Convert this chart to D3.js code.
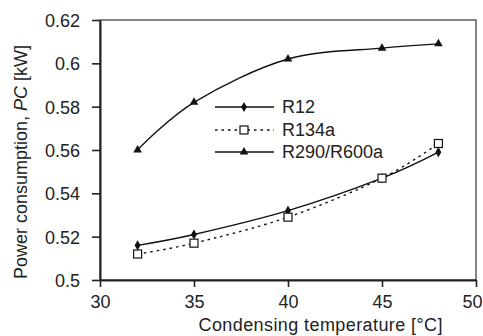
<!DOCTYPE html>
<html><head><meta charset="utf-8">
<script src="https://cdn.jsdelivr.net/npm/d3@7"></script>
<style>body{margin:0;background:#fff}svg{display:block}text{font-family:"Liberation Sans",Arial,sans-serif}</style>
</head><body><svg id="c" width="483" height="336"></svg>
<script>
const temps = [32, 35, 40, 45, 48];
const r12 = [0.516, 0.521, 0.532, 0.547, 0.559];
const r134a = [0.512, 0.517, 0.529, 0.547, 0.563];
const r290 = [0.560, 0.582, 0.602, 0.607, 0.609];
const seriesNames = ["R12", "R134a", "R290/R600a"];
const xTicks = [30, 35, 40, 45, 50];
const yTicks = [0.5, 0.52, 0.54, 0.56, 0.58, 0.6, 0.62];

const FS = 18;
const svg = d3.select("#c");
const L = 100, R = 476, T = 20, B = 280;
const x = d3.scaleLinear().domain([30, 50]).range([L, R]);
const y = d3.scaleLinear().domain([0.5, 0.62]).range([B, T]);

// frame
svg.append("rect").attr("x", L).attr("y", T).attr("width", R - L).attr("height", B - T)
  .attr("fill", "none").attr("stroke", "#444").attr("stroke-width", 1.3);

const fmtY = d => String(+d.toFixed(2));
const ax = svg.append("g").attr("transform", `translate(0,${B})`)
  .call(d3.axisBottom(x).tickValues(xTicks).tickSize(7).tickSizeOuter(0));
const ay = svg.append("g").attr("transform", `translate(${L},0)`)
  .call(d3.axisLeft(y).tickValues(yTicks).tickSize(8).tickSizeOuter(0).tickFormat(fmtY));
[ax, ay].forEach(g => {
  g.select(".domain").attr("stroke", "#222").attr("stroke-width", 2);
  g.selectAll(".tick line").attr("stroke", "#222").attr("stroke-width", 1.6);
  g.selectAll("text").attr("font-size", FS).attr("fill", "#222")
   .attr("font-family", "Liberation Sans, Arial, sans-serif");
});
ax.selectAll("text").attr("y", 28).attr("dy", 0)
  .attr("x", d => d === 50 ? -4 : 0);
ay.selectAll("text").attr("x", -20).attr("dy", "0.36em");

// titles
svg.append("text").attr("x", 320.5).attr("y", 331).attr("text-anchor", "middle")
  .attr("font-size", FS).attr("fill", "#222")
  .attr("textLength", 244).attr("lengthAdjust", "spacing")
  .text("Condensing temperature [°C]");
const yt = svg.append("text").attr("transform", `translate(27,162) rotate(-90)`)
  .attr("text-anchor", "middle").attr("font-size", FS).attr("fill", "#222");
yt.append("tspan").text("Power consumption, ");
yt.append("tspan").attr("font-style", "italic").text("PC");
yt.append("tspan").text(" [kW]");

const series = [
  {name: seriesNames[0], vals: r12, dash: null, marker: "diamond"},
  {name: seriesNames[1], vals: r134a, dash: "2.5,4", marker: "square"},
  {name: seriesNames[2], vals: r290, dash: null, marker: "triangle"}
];
const line = d3.line().x(d => x(d[0])).y(d => y(d[1])).curve(d3.curveCardinal.tension(0));

function drawMarker(g, type, cx, cy) {
  if (type === "diamond") {
    g.append("path").attr("d", d3.symbol(d3.symbolDiamond, 30)()).attr("transform", `translate(${cx},${cy})`)
      .attr("fill", "#111");
  } else if (type === "square") {
    g.append("rect").attr("x", cx - 4).attr("y", cy - 4).attr("width", 8).attr("height", 8)
      .attr("fill", "#fff").attr("stroke", "#111").attr("stroke-width", 1.2);
  } else {
    g.append("path").attr("d", d3.symbol(d3.symbolTriangle, 32)()).attr("transform", `translate(${cx},${cy})`)
      .attr("fill", "#111");
  }
}

series.forEach(s => {
  const pts = temps.map((t, i) => [t, s.vals[i]]);
  svg.append("path").attr("d", line(pts)).attr("fill", "none").attr("stroke", "#111")
    .attr("stroke-width", 1.4).attr("stroke-dasharray", s.dash);
  const g = svg.append("g");
  pts.forEach(p => drawMarker(g, s.marker, x(p[0]), y(p[1])));
});

// legend
const legY = [107, 130, 152];
series.forEach((s, i) => {
  const g = svg.append("g");
  g.append("line").attr("x1", 215).attr("x2", 274).attr("y1", legY[i]).attr("y2", legY[i])
    .attr("stroke", "#111").attr("stroke-width", 1.4).attr("stroke-dasharray", s.dash);
  drawMarker(g, s.marker, 244, legY[i]);
  g.append("text").attr("x", 282).attr("y", legY[i] + 6).attr("font-size", FS).attr("fill", "#222").text(s.name);
});
</script></body></html>
